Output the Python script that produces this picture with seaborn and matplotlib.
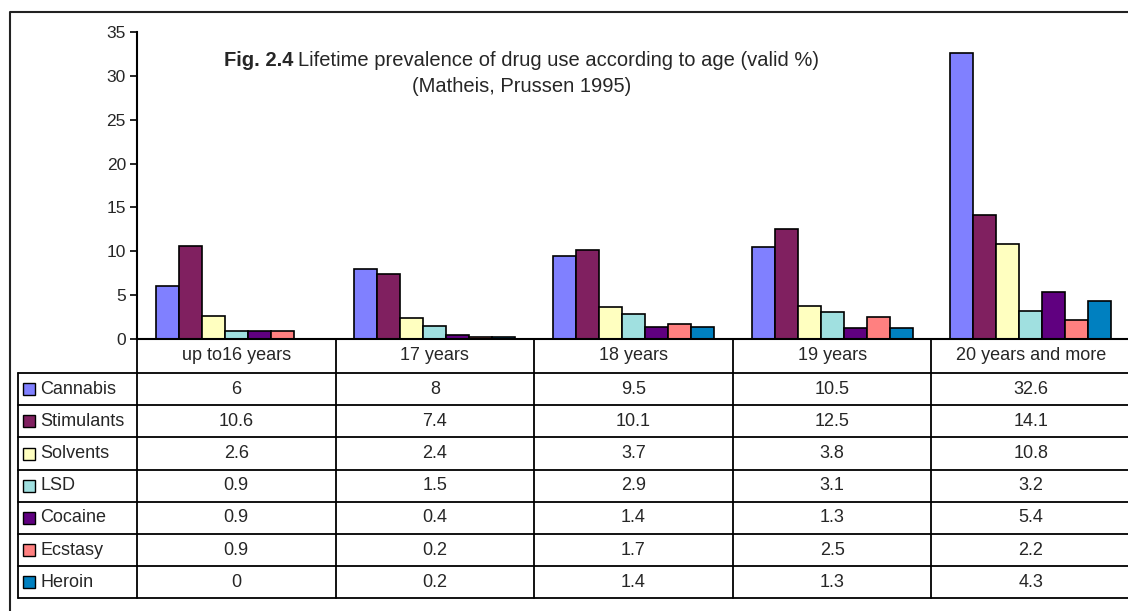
import pandas as pd
import seaborn as sns
import matplotlib.pyplot as plt
from matplotlib.lines import Line2D
from matplotlib.patches import Rectangle
from matplotlib.transforms import blended_transform_factory

ages = ["up to16 years", "17 years", "18 years", "19 years", "20 years and more"]
drugs = ["Cannabis", "Stimulants", "Solvents", "LSD", "Cocaine", "Ecstasy", "Heroin"]
cannabis = [6, 8, 9.5, 10.5, 32.6]
stimulants = [10.6, 7.4, 10.1, 12.5, 14.1]
solvents = [2.6, 2.4, 3.7, 3.8, 10.8]
lsd = [0.9, 1.5, 2.9, 3.1, 3.2]
cocaine = [0.9, 0.4, 1.4, 1.3, 5.4]
ecstasy = [0.9, 0.2, 1.7, 2.5, 2.2]
heroin = [0, 0.2, 1.4, 1.3, 4.3]
colors = ["#8080FF", "#802060", "#FFFFC0", "#A0E0E0", "#600080", "#FF8080", "#0080C0"]

values = [cannabis, stimulants, solvents, lsd, cocaine, ecstasy, heroin]
rows = []
for d, vals in zip(drugs, values):
    for a, v in zip(ages, vals):
        rows.append((a, d, v))
df = pd.DataFrame(rows, columns=["age", "drug", "pct"])

sns.set_theme(style="white")
plt.rcParams["font.family"] = ["Liberation Sans", "DejaVu Sans"]

W, H = 1128, 611
fs = 13
title_fs = 14.5


def fy(y):
    # pixel row -> figure fraction
    return 1 - y / H


fig = plt.figure(figsize=(W / 100, H / 100), dpi=100)
ax = fig.add_axes([137 / W, 1 - 339 / H, 993 / W, 307 / H])

sns.barplot(data=df, x="age", y="pct", hue="drug", order=ages, hue_order=drugs,
            palette=colors, saturation=1, width=0.81, edgecolor="black",
            linewidth=1.2, legend=False, ax=ax)

ax.set_xlim(-0.5, 4.5)
ax.set_ylim(0, 35)
ax.set_yticks(range(0, 36, 5))
ax.set_xticks([])
ax.set_xlabel("")
ax.set_ylabel("")
for s in ["top", "right"]:
    ax.spines[s].set_visible(False)
for s in ["left", "bottom"]:
    ax.spines[s].set_color("black")
    ax.spines[s].set_linewidth(1.5)
ax.tick_params(axis="y", left=True, length=5, width=1.2, color="black",
               labelsize=12.5, pad=3)

# data table under the chart
tr = blended_transform_factory(ax.transData, fig.transFigure)
row_h = 32.2
top_rows = 373
bottom = top_rows + 7 * row_h
lw = 1.3

for i in range(len(ages) + 1):
    fig.add_artist(Line2D([i - 0.5, i - 0.5], [fy(339), fy(bottom)], transform=tr,
                          color="black", lw=lw))
for k in range(8):
    y = top_rows + k * row_h
    fig.add_artist(Line2D([18 / W, 1], [fy(y), fy(y)], transform=fig.transFigure,
                          color="black", lw=lw))
fig.add_artist(Line2D([18 / W, 18 / W], [fy(top_rows), fy(bottom)],
                      transform=fig.transFigure, color="black", lw=lw))

for i, a in enumerate(ages):
    fig.text(i, fy(356), a, transform=tr, ha="center", va="center", fontsize=fs)

for r, (d, vals, c) in enumerate(zip(drugs, values, colors)):
    yc = top_rows + (r + 0.5) * row_h
    fig.add_artist(Rectangle((23 / W, fy(yc + 6)), 12 / W, 12 / H, facecolor=c,
                             edgecolor="black", lw=1, transform=fig.transFigure))
    fig.text(40 / W, fy(yc), d, ha="left", va="center", fontsize=fs)
    for i, v in enumerate(vals):
        fig.text(i, fy(yc), f"{v:g}", transform=tr, ha="center", va="center",
                 fontsize=fs)

# outer chart frame
fig.add_artist(Line2D([10 / W, 10 / W, 1], [0, fy(12), fy(12)],
                      transform=fig.transFigure, color="#222222", lw=1.5))

# title
fig.text(293 / W, fy(60), "Fig. 2.4", ha="right", va="center", fontsize=title_fs,
         weight="bold")
fig.text(298 / W, fy(60), "Lifetime prevalence of drug use according to age (valid %)",
         ha="left", va="center", fontsize=title_fs)
fig.text(522 / W, fy(86), "(Matheis, Prussen 1995)", ha="center", va="center",
         fontsize=title_fs)

fig.savefig("out.png", dpi=100)
